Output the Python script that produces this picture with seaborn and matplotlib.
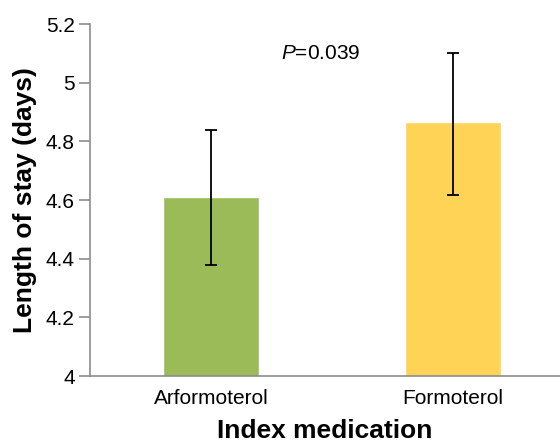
import numpy as np
import pandas as pd
import seaborn as sns
from matplotlib import pyplot as plt
from matplotlib.ticker import FixedLocator, FuncFormatter

meds = ['Arformoterol', 'Formoterol']
los = [4.61, 4.865]
err_low = [4.38, 4.617]
err_high = [4.84, 5.10]
colors = ['#9BBB59', '#FFD355']
p_text = '=0.039'

df = pd.DataFrame({'med': meds, 'los': los})

sns.set_style('white')
plt.rcParams['font.family'] = ['Liberation Sans', 'DejaVu Sans']
plt.rcParams['text.color'] = 'black'
plt.rcParams['axes.labelcolor'] = 'black'
plt.rcParams['xtick.labelcolor'] = 'black'
plt.rcParams['ytick.labelcolor'] = 'black'
plt.rcParams['mathtext.fontset'] = 'custom'
plt.rcParams['mathtext.it'] = 'Liberation Sans:italic'

fig = plt.figure(figsize=(5.6, 4.43), dpi=100)
ax = fig.add_axes([90/560, 1-376/443, 1-90/560, 352/443])

sns.barplot(data=df, x='med', y='los', hue='med', palette=colors, width=0.4,
            errorbar=None, legend=False, ax=ax, saturation=1)

yerr = [np.array(los) - np.array(err_low), np.array(err_high) - np.array(los)]
ax.errorbar([0, 1], los, yerr=yerr, fmt='none', ecolor='black', elinewidth=1.3,
            capsize=4, capthick=1.3)

ax.set_ylim(4, 5.2)
ax.set_xlim(-0.5, 1.442)
ax.yaxis.set_major_locator(FixedLocator([4, 4.2, 4.4, 4.6, 4.8, 5, 5.2]))
ax.yaxis.set_major_formatter(FuncFormatter(lambda v, p: f'{v:g}'))

ax.xaxis.set_minor_locator(FixedLocator([-0.5, 0.5, 1.5]))
ax.tick_params(axis='x', which='major', length=0, pad=9, labelsize=15)
ax.tick_params(axis='x', which='minor', length=8, width=1.2, color='#8c8c8c', direction='out')
ax.tick_params(axis='y', length=8, width=1.2, color='#8c8c8c', pad=3, labelsize=15, left=True)

for s in ['top', 'right']:
    ax.spines[s].set_visible(False)
for s in ['left', 'bottom']:
    ax.spines[s].set_color('#8c8c8c')
    ax.spines[s].set_linewidth(1.2)

ax.set_xlabel('Index medication', fontsize=19, fontweight='bold', labelpad=8)
ax.set_ylabel('Length of stay (days)', fontsize=19, fontweight='bold', labelpad=6)

ax.text(0.29, 5.10, '$\\it{P}$' + p_text, fontsize=15, va='center', ha='left')

fig.savefig('out.png', dpi=100)
